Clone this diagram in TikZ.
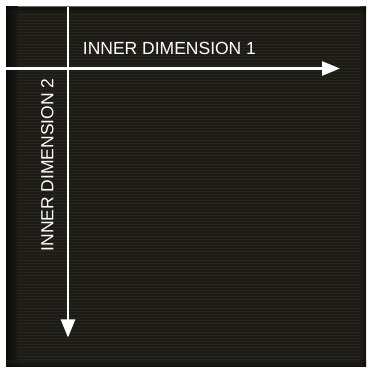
\documentclass[tikz,border=0pt]{standalone}
\usepackage{fontspec}
\setmainfont{Liberation Sans}
\usetikzlibrary{arrows.meta}
\definecolor{panel}{RGB}{28,27,22}
\definecolor{panelline}{RGB}{38,37,30}
\definecolor{paneledge}{RGB}{8,8,7}
\tikzset{
  axis/.style={draw=white, line width=2.5pt, -{Triangle[length=18pt,width=14pt]}},
  axislabel/.style={text=white, inner sep=0pt, font=\fontsize{17.5}{20}\selectfont}
}
\begin{document}
\begin{tikzpicture}[x=1pt,y=1pt]
\useasboundingbox (0,0) rectangle (370,371);
\fill[white] (0,0) rectangle (370,371);
% textured dark panel
\fill[panel] (6,4) rectangle (366,364);
\foreach \yy in {6,9,...,362} {
  \draw[panelline, line width=0.8pt] (8,\yy) -- (364,\yy);
}
\shade[left color=paneledge, right color=panel, opacity=0.9] (6,4) rectangle (18,364);
\shade[top color=paneledge, bottom color=panel, opacity=0.6] (6,358) rectangle (366,364);
\shade[bottom color=paneledge, top color=panel, opacity=0.6] (6,4) rectangle (366,10);
\shade[right color=paneledge, left color=panel, opacity=0.6] (360,4) rectangle (366,364);
% axes
\coordinate (hstart) at (6,302.5);
\coordinate (hend) at (340,302.5);
\coordinate (vstart) at (68,364);
\coordinate (vend) at (68,33.5);
\draw[axis] (hstart) -- (hend);
\draw[axis] (vstart) -- (vend);
% labels
\node[axislabel, anchor=base west] (lab1) at (82.7,316) {INNER DIMENSION 1};
\node[axislabel, anchor=base west, rotate=90] (lab2) at (53.3,119.3) {INNER DIMENSION 2};
\end{tikzpicture}
\end{document}
